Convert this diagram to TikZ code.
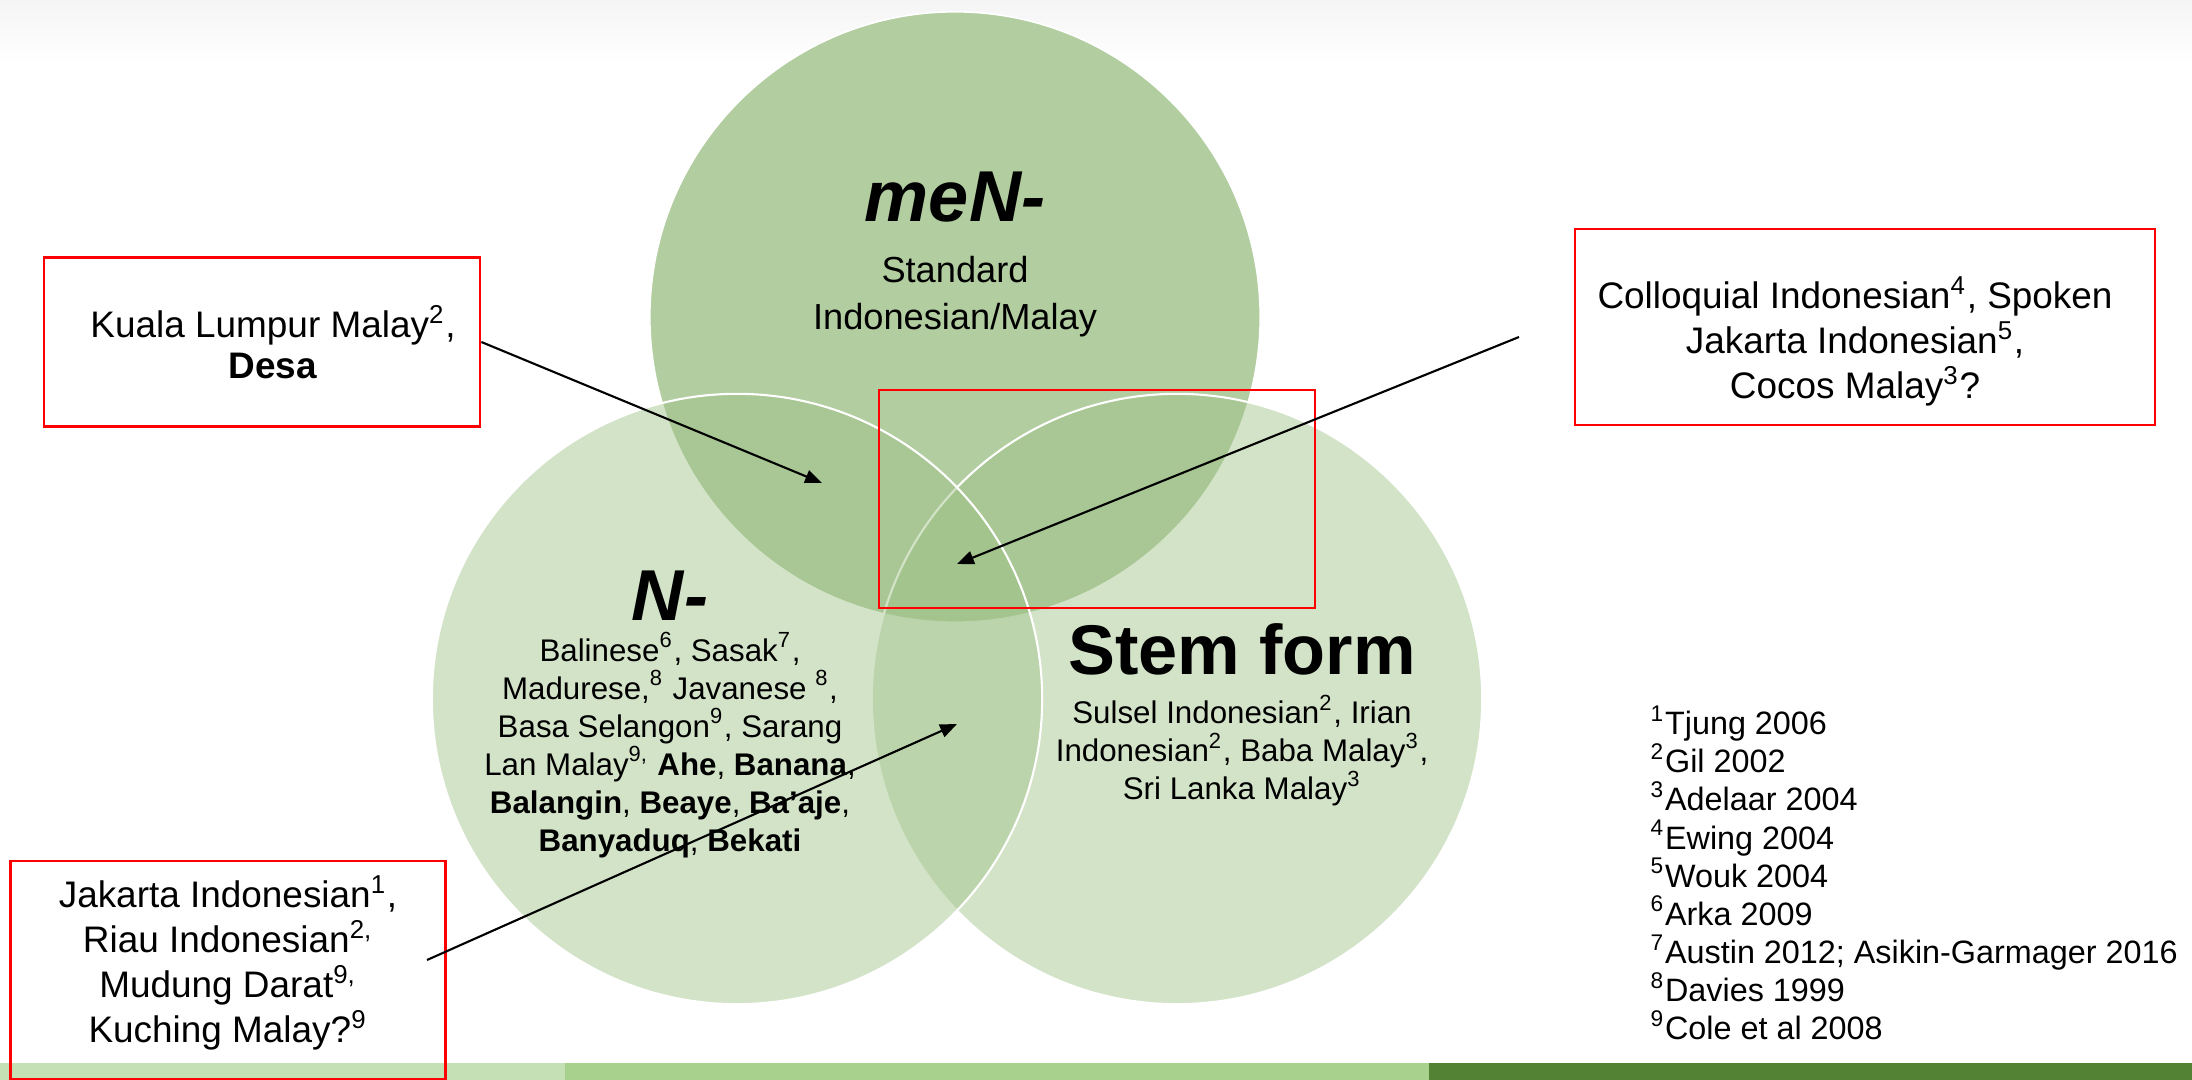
\documentclass[tikz,border=0pt]{standalone}
\usepackage{fontspec}
\setmainfont{Liberation Sans}
\usepackage{tikz}
\usetikzlibrary{positioning,arrows.meta}
\definecolor{topgreen}{HTML}{B2CDA0}
\definecolor{sidegreen}{HTML}{9EC186}
\definecolor{bandA}{HTML}{C5E0B4}
\definecolor{bandB}{HTML}{A9D18E}
\definecolor{bandC}{HTML}{548235}
\tikzstyle{line} = [line width=0.6pt, -{Triangle[length=4.8pt,width=3.8pt]}]
\tikzstyle{redbox} = [draw=red, line width=0.7pt, rectangle, inner sep=0pt]
\tikzstyle{boxtext} = [align=center, inner sep=0pt, font=\fontsize{10.5}{12.8}\selectfont]
\tikzstyle{topset} = [circle, minimum size=6.1cm, fill=topgreen, draw=white, line width=0.45pt]
\tikzstyle{sideset} = [circle, minimum size=6.1cm, fill=sidegreen, fill opacity=0.45, draw=white, line width=0.6pt]
\tikzstyle{setname} = [anchor=base, inner sep=0pt, font=\fontsize{20.5}{24}\selectfont\bfseries]
\tikzstyle{setlist} = [anchor=north, inner sep=0pt, align=center, font=\fontsize{8.9}{10.8}\selectfont]
\tikzstyle{refs} = [anchor=north west, inner sep=0pt, align=left, font=\fontsize{9.2}{10.84}\selectfont]

\begin{document}
\begin{tikzpicture}[x=0.01cm, y=-0.01cm]
        \useasboundingbox (0,0) rectangle (2192,1080);
        \shade[top color=black!4, bottom color=white] (0,0) rectangle (2192,65);
        \fill[bandA] (0,1063) rectangle (565,1080);
        \fill[bandB] (565,1063) rectangle (1429,1080);
        \fill[bandC] (1429,1063) rectangle (2192,1080);

        \node[topset](MeN) at (955,317) {};
        \node[sideset](Stem) at (1177,699) {};
        \node[sideset](Nasal) at (737,699) {};

        \node[setname](MeNname) at (955,222) {\itshape meN-};
        \node[setlist, font=\fontsize{10.3}{13.4}\selectfont, below=0.32cm of MeNname](MeNlist) {Standard\\Indonesian/Malay};
        \node[setname](Nasalname) at (670,620) {\itshape N-};
        \node[setlist, below=0.11cm of Nasalname](Nasallist) {Balinese\textsuperscript{6}, Sasak\textsuperscript{7},\\
            Madurese,\textsuperscript{8} Javanese \textsuperscript{8},\\
            Basa Selangon\textsuperscript{9}, Sarang\\
            Lan Malay\textsuperscript{9,} \textbf{Ahe}, \textbf{Banana},\\
            \textbf{Balangin}, \textbf{Beaye}, \textbf{Ba’aje},\\
            \textbf{Banyaduq}, \textbf{Bekati}};
        \node[setname, font=\fontsize{20}{24}\selectfont\bfseries](Stemname) at (1242,675) {Stem form};
        \node[setlist, below=0.18cm of Stemname](Stemlist) {Sulsel Indonesian\textsuperscript{2}, Irian\\
            Indonesian\textsuperscript{2}, Baba Malay\textsuperscript{3},\\
            Sri Lanka Malay\textsuperscript{3}};

        \node[redbox, minimum width=4.36cm, minimum height=1.69cm](KL) at (262,342) {};
        \node[boxtext, font=\fontsize{10.5}{11.7}\selectfont, xshift=0.11cm](KLtext) at (KL) {Kuala Lumpur Malay\textsuperscript{2},\\\textbf{Desa}};
        \node[redbox, minimum width=5.8cm, minimum height=1.96cm](CI) at (1865,327) {};
        \node[boxtext, xshift=-0.1cm, yshift=-0.14cm](CItext) at (CI) {Colloquial Indonesian\textsuperscript{4}, Spoken\\Jakarta Indonesian\textsuperscript{5},\\Cocos Malay\textsuperscript{3}?};
        \node[redbox, minimum width=4.35cm, minimum height=2.18cm](JI) at (228,970) {};
        \node[boxtext, yshift=0.07cm](JItext) at (JI) {Jakarta Indonesian\textsuperscript{1},\\Riau Indonesian\textsuperscript{2,}\\Mudung Darat\textsuperscript{9,}\\Kuching Malay?\textsuperscript{9}};
        \node[redbox, minimum width=4.36cm, minimum height=2.18cm](Core) at (1097,499) {};

        \node[refs](Refs) at (1650,705) {\textsuperscript{1}Tjung 2006\\
            \textsuperscript{2}Gil 2002\\
            \textsuperscript{3}Adelaar 2004\\
            \textsuperscript{4}Ewing 2004\\
            \textsuperscript{5}Wouk 2004\\
            \textsuperscript{6}Arka 2009\\
            \textsuperscript{7}Austin 2012; Asikin-Garmager 2016\\
            \textsuperscript{8}Davies 1999\\
            \textsuperscript{9}Cole et al 2008};

        \coordinate (KLtip) at (822,483);
        \coordinate (CItail) at (1519,337);
        \coordinate (CItip) at (957,564);
        \coordinate (JItail) at (427,960);
        \coordinate (JItip) at (957,724);
        \path[line](KL.east) edge (KLtip);
        \path[line](CItail) edge (CItip);
        \path[line](JItail) edge (JItip);
\end{tikzpicture}
\end{document}
